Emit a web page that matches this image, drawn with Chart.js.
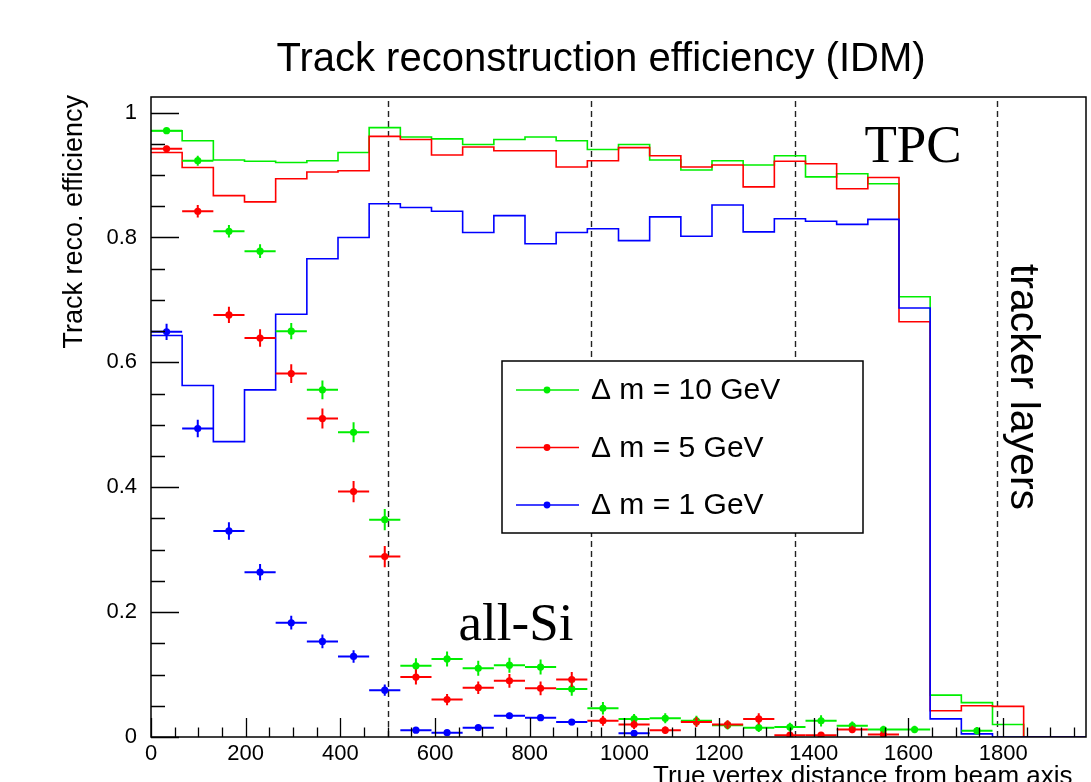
<!DOCTYPE html>
<html><head><meta charset="utf-8">
<script src="https://cdn.jsdelivr.net/npm/chart.js@4.4.0/dist/chart.umd.min.js"></script>
<style>html,body{margin:0;padding:0;background:#fff;}#wrap{width:1091px;height:782px;position:relative;}</style>
</head><body><div id="wrap"><canvas id="c" width="1091" height="782"></canvas></div>
<script>
// ---- data ----
const binEdges = [0, 65.8, 131.7, 197.5, 263.3, 329.2, 395, 460.8, 526.7, 592.5, 658.3, 724.2, 790, 855.8, 921.7, 987.5,
  1053.3, 1119.2, 1185, 1250.8, 1316.7, 1382.5, 1448.3, 1514.2, 1580, 1645.8, 1711.7, 1777.5, 1843.3, 1909.2, 1975];
const seriesLabels = ["\u0394 m = 10 GeV", "\u0394 m = 5 GeV", "\u0394 m = 1 GeV"];
const xTickValues = [0, 200, 400, 600, 800, 1000, 1200, 1400, 1600, 1800];
const yTickValues = [0, 0.2, 0.4, 0.6, 0.8, 1];
const detectorLines = [500, 930, 1360, 1788];

// histogram (step) values, one per bin
const histGreen = [0.971, 0.955, 0.924, 0.922, 0.920, 0.923, 0.936, 0.976, 0.961, 0.958, 0.949, 0.957, 0.961, 0.955, 0.941,
  0.949, 0.924, 0.908, 0.923, 0.916, 0.931, 0.897, 0.902, 0.886, 0.705, 0.067, 0.055, 0.020, 0, 0];
const histRed = [0.936, 0.912, 0.867, 0.857, 0.894, 0.905, 0.907, 0.962, 0.957, 0.932, 0.945, 0.939, 0.939, 0.913, 0.923,
  0.944, 0.931, 0.913, 0.916, 0.881, 0.922, 0.918, 0.878, 0.896, 0.665, 0.042, 0.050, 0.049, 0, 0];
const histBlue = [0.643, 0.563, 0.473, 0.556, 0.677, 0.766, 0.800, 0.854, 0.848, 0.842, 0.808, 0.835, 0.790, 0.808, 0.814,
  0.795, 0.833, 0.802, 0.852, 0.809, 0.830, 0.826, 0.821, 0.829, 0.687, 0.029, 0.005, 0, 0, 0];

// points with error bars, one per bin (null = not drawn)
const ptsGreen = [0.971, 0.923, 0.810, 0.778, 0.650, 0.556, 0.488, 0.348, 0.114, 0.125, 0.110, 0.115, 0.112, 0.077, 0.046,
  0.029, 0.030, 0.026, 0.019, 0.015, 0.016, 0.026, 0.018, 0.012, 0.012, null, 0.010, null, null, null];
const errGreen = [0.004, 0.008, 0.010, 0.011, 0.013, 0.015, 0.016, 0.017, 0.012, 0.012, 0.012, 0.012, 0.012, 0.011, 0.010,
  0.008, 0.008, 0.008, 0.007, 0.007, 0.007, 0.009, 0.007, 0.006, 0.006, 0, 0.006, 0, 0, 0];
const ptsRed = [0.942, 0.842, 0.676, 0.639, 0.582, 0.510, 0.393, 0.289, 0.096, 0.060, 0.079, 0.090, 0.078, 0.092, 0.026,
  0.020, 0.011, 0.024, 0.020, 0.029, 0.003, 0.003, 0.012, 0.004, null, null, null, null, null, null];
const errRed = [0.005, 0.010, 0.013, 0.014, 0.015, 0.016, 0.017, 0.017, 0.012, 0.009, 0.010, 0.011, 0.011, 0.012, 0.008,
  0.007, 0.006, 0.008, 0.007, 0.009, 0.003, 0.003, 0.006, 0.003, 0, 0, 0, 0, 0, 0];
const ptsBlue = [0.649, 0.494, 0.330, 0.264, 0.183, 0.153, 0.129, 0.075, 0.011, 0.007, 0.015, 0.034, 0.031, 0.024, null,
  0.006, null, null, null, null, null, null, null, null, null, null, null, null, null, null];
const errBlue = [0.013, 0.014, 0.014, 0.013, 0.011, 0.011, 0.010, 0.009, 0.004, 0.003, 0.004, 0.005, 0.005, 0.005, 0,
  0.003, 0, 0, 0, 0, 0, 0, 0, 0, 0, 0, 0, 0, 0, 0];

const COLORS = ['#00ee00', '#ff0000', '#0000ff'];
const SANS = '"Liberation Sans", Arial, Helvetica, sans-serif';
const SERIF = '"Liberation Serif", "Times New Roman", serif';

// ---- build datasets ----
function histData(vals) {
  return binEdges.map((e, i) => ({ x: e, y: vals[Math.min(i, vals.length - 1)] }));
}
function pointData(vals, errs) {
  const out = [];
  vals.forEach((v, i) => {
    if (v === null) return;
    out.push({ x: (binEdges[i] + binEdges[i + 1]) / 2, y: v, lo: binEdges[i], hi: binEdges[i + 1], err: errs[i] });
  });
  return out;
}
const hists = [histGreen, histRed, histBlue];
const pts = [[ptsGreen, errGreen], [ptsRed, errRed], [ptsBlue, errBlue]];
const datasets = [];
hists.forEach((h, k) => {
  datasets.push({ type: 'line', label: seriesLabels[k] + ' hist', data: histData(h), stepped: 'before',
    borderColor: COLORS[k], borderWidth: 1.6, pointRadius: 0, fill: false, order: 10 - k, isHist: true });
});
pts.forEach((p, k) => {
  datasets.push({ type: 'scatter', label: seriesLabels[k], data: pointData(p[0], p[1]), showLine: false,
    pointRadius: 3.6, pointBackgroundColor: COLORS[k], pointBorderWidth: 0, borderColor: COLORS[k],
    order: 6 - k, isPts: true, colorIdx: k });
});

// ---- decorations plugin ----
const deco = {
  id: 'deco',
  beforeDatasetsDraw(chart) {
    const { ctx, chartArea: a, scales: { x, y } } = chart;
    ctx.save();
    ctx.strokeStyle = '#222'; ctx.lineWidth = 1.4; ctx.setLineDash([6, 4]);
    detectorLines.forEach(v => {
      const px = Math.round(x.getPixelForValue(v)) + 0.5;
      ctx.beginPath(); ctx.moveTo(px, a.bottom); ctx.lineTo(px, a.top); ctx.stroke();
    });
    ctx.restore();
  },
  afterDatasetsDraw(chart) {
    const { ctx, chartArea: a, scales: { x, y } } = chart;
    // error bars
    ctx.save();
    chart.data.datasets.forEach(ds => {
      if (!ds.isPts) return;
      ctx.strokeStyle = COLORS[ds.colorIdx]; ctx.lineWidth = 2;
      ds.data.forEach(d => {
        const py = y.getPixelForValue(d.y);
        ctx.beginPath();
        ctx.moveTo(x.getPixelForValue(d.lo), py); ctx.lineTo(x.getPixelForValue(d.hi), py);
        if (d.err > 0) {
          ctx.moveTo(x.getPixelForValue(d.x), y.getPixelForValue(d.y - d.err));
          ctx.lineTo(x.getPixelForValue(d.x), y.getPixelForValue(d.y + d.err));
        }
        ctx.stroke();
      });
    });
    ctx.restore();
    // frame
    ctx.save();
    ctx.strokeStyle = '#000'; ctx.lineWidth = 1.5;
    ctx.strokeRect(a.left, a.top, a.right - a.left, a.bottom - a.top);
    // ticks
    ctx.lineWidth = 1.3;
    ctx.beginPath();
    for (let v = 0; v <= x.max; v += 50) {
      const px = Math.round(x.getPixelForValue(v)) + 0.5;
      const len = (v % 200 === 0) ? 19 : 9.5;
      ctx.moveTo(px, a.bottom); ctx.lineTo(px, a.bottom - len);
    }
    for (let i = 0; i <= 20; i++) {
      const v = i * 0.05;
      const py = Math.round(y.getPixelForValue(v)) + 0.5;
      const len = (i % 4 === 0) ? 28 : 14;
      ctx.moveTo(a.left, py); ctx.lineTo(a.left + len, py);
    }
    ctx.stroke();
    ctx.restore();
    // texts
    ctx.save();
    ctx.fillStyle = '#000';
    ctx.font = '40px ' + SANS; ctx.textAlign = 'center'; ctx.textBaseline = 'middle';
    ctx.fillText('Track reconstruction efficiency (IDM)', 601, 60);
    // y title
    ctx.save();
    ctx.translate(75, a.top - 2); ctx.rotate(-Math.PI / 2);
    ctx.font = '27px ' + SANS; ctx.textAlign = 'right'; ctx.textBaseline = 'middle';
    ctx.fillText('Track reco. efficiency', 0, 0);
    ctx.restore();
    // x title (cut)
    ctx.font = '26px ' + SANS; ctx.textAlign = 'left'; ctx.textBaseline = 'top';
    ctx.fillText('True vertex distance from beam axis', 653, 764);
    // region labels
    ctx.font = '53px ' + SERIF; ctx.textAlign = 'center'; ctx.textBaseline = 'alphabetic';
    ctx.fillText('TPC', 913, 162);
    ctx.fillText('all-Si', 516, 640);
    ctx.save();
    ctx.translate(1022, 387); ctx.rotate(Math.PI / 2);
    ctx.font = '41px ' + SANS; ctx.textAlign = 'center'; ctx.textBaseline = 'middle';
    ctx.fillText('tracker layers', 0, 0);
    ctx.restore();
    // legend
    const L = { x: 502, y: 361, w: 361, h: 172 };
    ctx.fillStyle = '#fff'; ctx.fillRect(L.x, L.y, L.w, L.h);
    ctx.strokeStyle = '#000'; ctx.lineWidth = 1.5; ctx.strokeRect(L.x, L.y, L.w, L.h);
    const rows = [390, 447.5, 505];
    ctx.font = '30px ' + SANS; ctx.textAlign = 'left'; ctx.textBaseline = 'middle';
    seriesLabels.forEach((lab, k) => {
      ctx.strokeStyle = COLORS[k]; ctx.fillStyle = COLORS[k]; ctx.lineWidth = 1.6;
      ctx.beginPath(); ctx.moveTo(516, rows[k]); ctx.lineTo(579, rows[k]); ctx.stroke();
      ctx.beginPath(); ctx.arc(547, rows[k], 3.4, 0, Math.PI * 2); ctx.fill();
      ctx.fillStyle = '#000';
      ctx.fillText(lab, 591, rows[k] + 1);
    });
    ctx.restore();
  }
};

new Chart(document.getElementById('c'), {
  data: { datasets },
  options: {
    responsive: false, animation: false, devicePixelRatio: 1,
    layout: { padding: { top: 97, right: 5, left: 0, bottom: 0 } },
    plugins: { legend: { display: false }, tooltip: { enabled: false }, title: { display: false } },
    scales: {
      x: {
        type: 'linear', min: 0, max: 1975,
        grid: { display: false, drawTicks: false, tickLength: 0 }, border: { display: false },
        afterBuildTicks(s) { s.ticks = xTickValues.map(v => ({ value: v })); },
        ticks: { font: { family: SANS, size: 22 }, color: '#000', padding: 4, maxRotation: 0, autoSkip: false,
          callback: v => String(v) },
        afterFit(s) { s.height = 45; }
      },
      y: {
        type: 'linear', min: 0, max: 1.025,
        grid: { display: false, drawTicks: false, tickLength: 0 }, border: { display: false },
        afterBuildTicks(s) { s.ticks = yTickValues.map(v => ({ value: v })); },
        ticks: { font: { family: SANS, size: 22 }, color: '#000', padding: 14,
          callback: v => (v === 0 ? '0' : (v === 1 ? '1' : v.toFixed(1))) },
        afterFit(s) { s.width = 151; }
      }
    }
  },
  plugins: [deco]
});
</script></body></html>
